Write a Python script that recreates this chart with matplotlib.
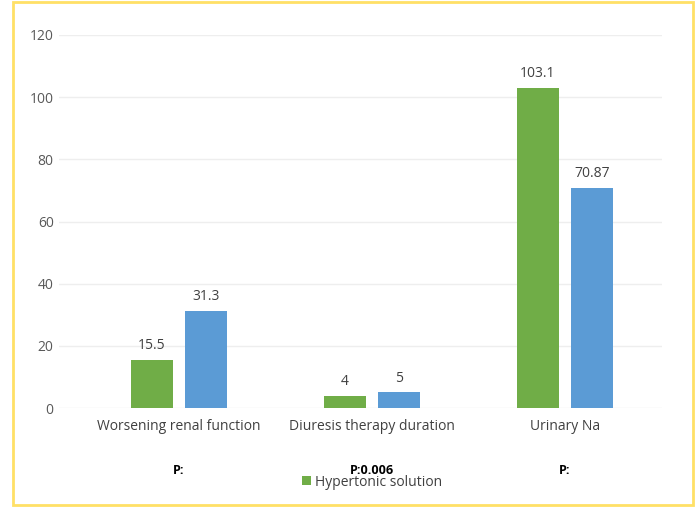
import matplotlib
matplotlib.use("Agg")
import matplotlib.pyplot as plt
import numpy as np
from matplotlib.patches import Rectangle

categories = ["Worsening renal function", "Diuresis therapy duration", "Urinary Na"]
hypertonic = [15.5, 4, 103.1]
other = [31.3, 5, 70.87]
hyper_labels = ["15.5", "4", "103.1"]
other_labels = ["31.3", "5", "70.87"]
p_labels = ["P:", "P:0.006", "P:"]
yticks = [0, 20, 40, 60, 80, 100, 120]

green = "#70AD47"
blue = "#5B9BD5"
txt = "#404040"

plt.rcParams['font.family'] = ['Open Sans', 'DejaVu Sans']

fig = plt.figure(figsize=(6.98, 5.07), dpi=100)
fig.patch.set_facecolor("white")
fig.patches.append(Rectangle((13/698, 1 - 505/507), 680/698, 503/507, transform=fig.transFigure,
                             fill=False, edgecolor="#FFE066", linewidth=2.0))

left = 59.3/698
right = 661.5/698
bottom = 1 - 408/507
top = 1 - 35/507
ax = fig.add_axes([left, bottom, right - left, top - bottom])

x = np.arange(len(categories))
w = 0.22
off = 0.14
b1 = ax.bar(x - off, hypertonic, w, color=green, zorder=3)
b2 = ax.bar(x + off, other, w, color=blue, zorder=3)

for xi, v, s in zip(x - off, hypertonic, hyper_labels):
    ax.annotate(s, (xi, v), xytext=(0, 5), textcoords="offset points", ha="center", va="bottom",
                fontsize=10, color=txt)
for xi, v, s in zip(x + off, other, other_labels):
    ax.annotate(s, (xi, v), xytext=(0, 5), textcoords="offset points", ha="center", va="bottom",
                fontsize=10, color=txt)

ax.set_xlim(-0.62, 2.5)
ax.set_ylim(0, 120)
ax.set_yticks(yticks)
ax.set_yticklabels([str(t) for t in yticks], fontsize=10, color="#595959")
ax.set_xticks(x)
ax.set_xticklabels(categories, fontsize=10, color=txt)
ax.tick_params(axis="both", length=0)
ax.tick_params(axis="y", pad=4)
ax.tick_params(axis="x", pad=8)
ax.grid(axis="y", color="#EEEEEE", linewidth=1.0, zorder=0)
for sp in ax.spines.values():
    sp.set_visible(False)

for xi, s in zip(x, p_labels):
    ax.annotate(s, (xi, 0), xytext=(0, -45), textcoords="offset points", ha="center",
                va="center", fontsize=9, color="black", fontweight="bold",
                annotation_clip=False)

leg = fig.legend([b1], ["Hypertonic solution"], loc="center", bbox_to_anchor=(372/698, 1 - 482/507),
                 frameon=False, fontsize=10, handlelength=0.6, handleheight=0.6, handletextpad=0.3)
for t in leg.get_texts():
    t.set_color(txt)

fig.savefig("out.png", dpi=100, facecolor="white")
